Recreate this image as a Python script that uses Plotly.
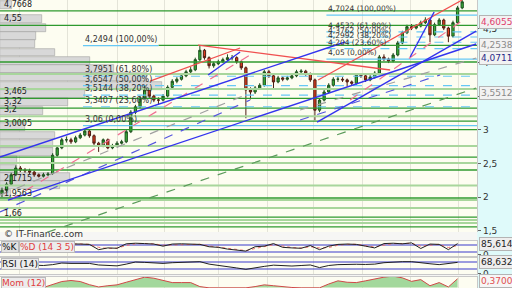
import plotly.graph_objects as go

# ---------------- data ----------------
closes = [2.10, 2.19, 2.33, 2.43, 2.40, 2.39, 2.37, 2.33, 2.31, 2.33,
          2.34, 2.62, 2.73, 2.85, 2.85, 2.82, 2.88, 2.92, 2.98, 2.91,
          2.80, 2.76, 2.85, 2.73, 2.76, 2.80, 2.82, 2.97, 3.26, 3.34,
          3.47, 3.59, 3.50, 3.44, 3.44, 3.50, 3.63, 3.72, 3.75, 3.80,
          3.86, 3.89, 4.04, 4.18, 4.07, 3.95, 3.98, 4.01, 4.04, 4.07,
          4.07, 4.01, 3.92, 3.59, 3.56, 3.62, 3.66, 3.86, 3.80, 3.71,
          3.77, 3.75, 3.77, 3.80, 3.86, 3.87, 3.83, 3.74, 3.29, 3.44,
          3.56, 3.66, 3.75, 3.75, 3.74, 3.71, 3.69, 3.81, 3.80, 3.74,
          3.78, 3.84, 4.08, 4.05, 4.02, 4.11, 4.29, 4.44, 4.53, 4.51,
          4.54, 4.59, 4.63, 4.41, 4.56, 4.63, 4.51, 4.39, 4.59, 4.81,
          4.90]
opens = [2.05, 2.10, 2.19, 2.33, 2.43, 2.40, 2.39, 2.37, 2.33, 2.31,
         2.33, 2.35, 2.62, 2.73, 2.85, 2.85, 2.82, 2.88, 2.92, 2.98,
         2.91, 2.80, 2.76, 2.85, 2.73, 2.76, 2.80, 2.82, 2.97, 3.26,
         3.34, 3.47, 3.59, 3.50, 3.44, 3.44, 3.50, 3.63, 3.72, 3.75,
         3.80, 3.86, 3.89, 4.04, 4.18, 4.07, 3.95, 3.98, 4.01, 4.04,
         4.07, 4.07, 4.01, 3.92, 3.59, 3.56, 3.62, 3.66, 3.86, 3.80,
         3.71, 3.77, 3.75, 3.77, 3.80, 3.86, 3.87, 3.83, 3.74, 3.29,
         3.44, 3.56, 3.66, 3.75, 3.75, 3.74, 3.71, 3.69, 3.81, 3.80,
         3.74, 3.78, 3.84, 4.08, 4.05, 4.02, 4.11, 4.29, 4.44, 4.53,
         4.51, 4.54, 4.59, 4.63, 4.41, 4.56, 4.63, 4.51, 4.39, 4.59,
         4.81]
highs = [2.14, 2.22, 2.36, 2.47, 2.46, 2.43, 2.42, 2.39, 2.35, 2.36,
         2.37, 2.65, 2.76, 2.88, 2.90, 2.88, 2.91, 2.95, 3.01, 3.00,
         2.93, 2.82, 2.87, 2.87, 2.79, 2.83, 2.85, 3.00, 3.29, 3.37,
         3.50, 3.66, 3.61, 3.52, 3.48, 3.53, 3.66, 3.75, 3.78, 3.83,
         3.89, 3.93, 4.07, 4.25, 4.20, 4.09, 4.01, 4.04, 4.07, 4.12,
         4.11, 4.09, 4.03, 3.94, 3.63, 3.65, 3.69, 3.89, 3.89, 3.82,
         3.80, 3.79, 3.80, 3.83, 3.89, 3.90, 3.89, 3.85, 3.76, 3.47,
         3.59, 3.69, 3.78, 3.79, 3.78, 3.76, 3.73, 3.84, 3.84, 3.82,
         3.81, 3.87, 4.11, 4.12, 4.07, 4.14, 4.32, 4.47, 4.56, 4.57,
         4.57, 4.62, 4.67, 4.65, 4.59, 4.66, 4.65, 4.53, 4.62, 4.84,
         4.93]
lows = [2.00, 2.07, 2.17, 2.31, 2.37, 2.36, 2.34, 2.30, 2.29, 2.29,
        2.31, 2.33, 2.60, 2.71, 2.81, 2.79, 2.80, 2.86, 2.90, 2.88,
        2.76, 2.67, 2.74, 2.71, 2.71, 2.74, 2.78, 2.80, 2.95, 3.23,
        3.32, 3.45, 3.46, 3.41, 3.37, 3.42, 3.48, 3.61, 3.69, 3.73,
        3.78, 3.84, 3.87, 4.02, 4.04, 3.91, 3.92, 3.96, 3.99, 4.02,
        4.03, 3.98, 3.89, 3.17, 3.45, 3.53, 3.60, 3.64, 3.77, 3.60,
        3.69, 3.72, 3.73, 3.75, 3.78, 3.83, 3.80, 3.71, 3.14, 3.26,
        3.42, 3.54, 3.64, 3.71, 3.71, 3.64, 3.66, 3.67, 3.77, 3.71,
        3.72, 3.76, 3.82, 4.02, 3.99, 4.00, 4.09, 4.27, 4.42, 4.48,
        4.49, 4.52, 4.57, 4.30, 4.39, 4.54, 4.48, 4.30, 4.37, 4.57,
        4.79]
days = list(range(len(closes)))
month_ticks = [3.9, 14.3, 25.0, 35.4, 47.0, 57.6, 67.6, 78.3, 88.7, 99.1]

# volume-by-price profile (left side)
vp_prices = [4.853, 4.640, 4.517, 4.394, 4.270, 4.147, 4.024, 3.900, 3.777, 3.654,
             3.530, 3.407, 3.284, 3.160, 3.037, 2.914, 2.790, 2.667, 2.544, 2.420,
             2.297, 2.174, 2.050]
vp_volume = [12, 42, 46, 36, 35, 55, 90, 114, 147, 162,
             85, 68, 43, 0, 25, 55, 53, 53, 17, 17,
             70, 60, 11]

# support / resistance levels
dark_levels = [4.7668, 4.55, 4.006, 3.465, 3.32, 3.128, 3.0005, 2.594, 2.401, 1.985, 1.70, 1.555]
light_levels = [3.827, 3.605, 3.2, 2.758, 2.505, 2.1715, 1.9563, 1.836, 1.66, 1.614]
late_level = 4.2538
late_level_start = 34
labeled_levels = [4.7668, 4.55, 3.465, 3.32, 3.2, 3.0005, 2.1715, 1.9563, 1.66]

# fibonacci retracements
fib_pcts = [0.0, 23.6, 38.2, 50.0, 61.8, 100.0]
fib1_levels = [3.06, 3.3407, 3.5144, 3.6547, 3.7951, 4.2494]
fib1_start = 17.6
fib2_levels = [4.05, 4.204, 4.2992, 4.3762, 4.4532, 4.7024]
fib2_start = 70.5

# trend lines (day0, price0, day1, price1)
blue_lines = [(-0.43, 2.594, 74.57, 4.303), (1.30, 1.955, 103.04, 4.273),
              (68.48, 3.114, 103.04, 4.466), (44.78, 3.813, 51.74, 4.154),
              (88.70, 4.080, 93.91, 4.749)]
red_lines = [(32.17, 3.723, 51.74, 4.214), (42.61, 4.258, 84.35, 3.887),
             (68.70, 3.738, 100.0, 4.927)]
pink_dashed = [(1.74, 1.955, 53.91, 4.110), (75.65, 3.441, 99.57, 4.600)]
gray_dashed = [(-0.43, 2.030, 53.91, 3.545), (64.78, 3.293, 103.04, 4.065)]
blue_dashed = [(-0.43, 1.777, 53.91, 3.441), (64.78, 3.144, 95.22, 3.813)]
green_dashed = [(6.09, 1.391, 103.04, 3.619)]

# right-hand value boxes
value_boxes = [(4.6055, '#e0406e'), (4.2538, '#8a8a8a'), (4.0711, '#2a2a88'), (3.5512, '#8a8a8a')]

# indicators
ind_idx = list(range(13, 101, 2))
stoch_k = [90, 92, 88, 85, 40, 55, 52, 90, 95, 92, 88, 70, 88, 90, 88, 85, 65, 60, 45, 35,
           28, 65, 70, 92, 60, 55, 52, 75, 40, 70, 85, 88, 85, 70, 55, 92, 95, 90, 98, 50,
           88, 85, 40, 92]
stoch_d = [85, 90, 89, 86, 60, 50, 53, 75, 90, 93, 90, 78, 80, 88, 88, 86, 72, 63, 52, 40,
           32, 50, 66, 82, 72, 58, 54, 65, 55, 58, 78, 86, 86, 77, 62, 78, 92, 92, 95, 70,
           75, 86, 58, 75]
rsi_idx = list(range(7, 101, 2))
rsi_vals = [52, 50, 55, 64, 62, 60, 62, 53, 50, 48, 58, 70, 68, 66, 62, 66, 68, 70, 72, 58,
            52, 42, 36, 28, 38, 45, 52, 48, 47, 50, 53, 38, 50, 55, 58, 57, 56, 58, 66, 70,
            72, 72, 64, 60, 55, 60, 68]
mom_idx = list(range(9, 101, 2))
mom_vals = [0.0, 0.15, 0.34, 0.40, 0.34, 0.16, 0.03, 0.10, 0.15, 0.30,
            0.45, 0.59, 0.53, 0.40, 0.28, 0.28, 0.28, 0.05, -0.02, -0.02,
            -0.02, -0.02, -0.02, 0.05, 0.15, 0.10, 0.03, 0.0, -0.02, 0.0,
            -0.02, 0.20, 0.38, 0.30, 0.28, 0.38, 0.50, 0.59, 0.65, 0.55,
            0.35, 0.45, 0.10, 0.28, 0.03, 0.50]

# ---------------- figure ----------------
X0, X1 = -0.43, 103.26
XD = [0, 0.932]
FONT = "DejaVu Sans"


def fmt(v):
    return ('%g' % v).replace('.', ',')


fig = go.Figure()

fig.add_trace(go.Bar(x=vp_volume, y=vp_prices, orientation='h', width=0.118,
                     xaxis='x', yaxis='y', hoverinfo='skip', showlegend=False,
                     marker=dict(color='#d8d8d8', line=dict(color='#a0a0a0', width=0.6))))


def hline(p, x0, x1, color, width, dash='solid'):
    fig.add_trace(go.Scatter(x=[x0, x1], y=[p, p], mode='lines', xaxis='x2', yaxis='y',
                             line=dict(color=color, width=width, dash=dash),
                             hoverinfo='skip', showlegend=False))


for p in light_levels:
    hline(p, X0, X1, '#a8d69c', 2)
for p in dark_levels:
    hline(p, X0, X1, '#2f9a2f', 1.3)
hline(late_level, late_level_start, X1, '#2f9a2f', 1.3)

for lv, pc in zip(fib1_levels, fib_pcts):
    solid = pc in (0.0, 100.0)
    end = late_level_start if pc == 100.0 else X1
    hline(lv, fib1_start, end, '#66c8f5', 1.3 if solid else 1.1, 'solid' if solid else 'dash')
for lv, pc in zip(fib2_levels, fib_pcts):
    solid = pc in (0.0, 100.0)
    hline(lv, fib2_start, X1, '#66c8f5', 1.3 if solid else 1.1, 'solid' if solid else 'dash')


def seg(t, color, width, dash='solid'):
    fig.add_trace(go.Scatter(x=[t[0], t[2]], y=[t[1], t[3]], mode='lines', xaxis='x2', yaxis='y',
                             line=dict(color=color, width=width, dash=dash),
                             hoverinfo='skip', showlegend=False))


for t in green_dashed:
    seg(t, '#5a9a5a', 1.2, 'dash')
for t in gray_dashed:
    seg(t, '#a0a0a0', 1.2, 'dash')
for t in blue_dashed:
    seg(t, '#5555dd', 1.2, 'dash')
for t in pink_dashed:
    seg(t, '#f07090', 1.2, 'dash')

fig.add_trace(go.Candlestick(x=days, open=opens, high=highs, low=lows, close=closes,
                             xaxis='x2', yaxis='y', whiskerwidth=0, showlegend=False,
                             increasing=dict(line=dict(color='#1e4e1e', width=1), fillcolor='#36b036'),
                             decreasing=dict(line=dict(color='#4e1e14', width=1), fillcolor='#e03c1e'),
                             hoverinfo='skip'))

for t in red_lines:
    seg(t, '#f05050', 1.3)
for t in blue_lines:
    seg(t, '#3333ee', 1.4)

# stochastic
for lv in (80, 20):
    fig.add_trace(go.Scatter(x=[X0, X1], y=[lv, lv], mode='lines', xaxis='x3', yaxis='y3',
                             line=dict(color='#3a3acc', width=1.2), hoverinfo='skip', showlegend=False))
fig.add_trace(go.Scatter(x=ind_idx, y=stoch_d, mode='lines', xaxis='x3', yaxis='y3',
                         line=dict(color='#f07070', width=1, dash='dot'), hoverinfo='skip', showlegend=False))
fig.add_trace(go.Scatter(x=ind_idx, y=stoch_k, mode='lines', xaxis='x3', yaxis='y3',
                         line=dict(color='#202020', width=1), hoverinfo='skip', showlegend=False))
# RSI
for lv in (70, 30):
    fig.add_trace(go.Scatter(x=[X0, X1], y=[lv, lv], mode='lines', xaxis='x4', yaxis='y4',
                             line=dict(color='#3a3acc', width=1.2), hoverinfo='skip', showlegend=False))
fig.add_trace(go.Scatter(x=rsi_idx, y=rsi_vals, mode='lines', xaxis='x4', yaxis='y4',
                         line=dict(color='#202020', width=1), hoverinfo='skip', showlegend=False))
# Momentum
fig.add_trace(go.Scatter(x=mom_idx, y=mom_vals, mode='lines', xaxis='x5', yaxis='y5', fill='tozeroy',
                         fillcolor='#a3d89c', line=dict(color='#d04848', width=1),
                         hoverinfo='skip', showlegend=False))

grid = dict(tickvals=month_ticks, showgrid=True, gridcolor='#e4e4d8', gridwidth=1,
            showticklabels=False, ticks='', zeroline=False)
sub_x = dict(domain=XD, range=[X0, X1], showline=True, mirror=True, linecolor='#c8c8c8', **grid)
ytick = dict(ticks='outside', ticklen=3, tickcolor='#666', tickfont=dict(size=9, color='#333', family=FONT),
             showgrid=False, zeroline=False, side='right', automargin=False)

main_ticks = [1.5, 2, 2.5, 3, 3.5, 4, 4.5]
fig.update_layout(
    width=512, height=288, margin=dict(l=0, r=0, t=0, b=0, pad=0),
    paper_bgcolor='#f6f6f4', plot_bgcolor='#fdfdf1', showlegend=False,
    font=dict(family=FONT, size=8, color='#222'),
    bargap=0,
    xaxis=dict(domain=XD, range=[0, 477], visible=False, anchor='y'),
    xaxis2=dict(domain=XD, range=[X0, X1], overlaying='x', anchor='y',
                rangeslider=dict(visible=False), **grid),
    yaxis=dict(domain=[0.1944, 1.0], range=[1.48, 4.927], anchor='x', tickvals=main_ticks,
               ticktext=[fmt(v) for v in main_ticks], showline=True, linecolor='#c8c8c8', **ytick),
    xaxis3=dict(anchor='y3', **sub_x),
    yaxis3=dict(domain=[0.1111, 0.1632], range=[-14, 114], anchor='x3', tickvals=[0], ticktext=['0'],
                showline=True, mirror=True, linecolor='#c8c8c8', **ytick),
    xaxis4=dict(anchor='y4', **sub_x),
    yaxis4=dict(domain=[0.0486, 0.1042], range=[1.4, 93], anchor='x4', tickvals=[5], ticktext=['0'],
                showline=True, mirror=True, linecolor='#c8c8c8', **ytick),
    xaxis5=dict(anchor='y5', **sub_x),
    yaxis5=dict(domain=[0.0, 0.0382], range=[-0.03, 0.6], anchor='x5', tickvals=[], showline=True,
                mirror=True, linecolor='#c8c8c8', **ytick),
)

fig.add_shape(type='rect', xref='paper', yref='paper', x0=0.932, x1=1.0, y0=0, y1=1,
              fillcolor='#dffafa', line=dict(width=0), layer='below')

ann = []
for p in labeled_levels:
    ann.append(dict(x=0.004, xref='paper', xanchor='left', y=p, yref='y', yanchor='bottom',
                    text=fmt(p), showarrow=False, font=dict(size=8, color='#222')))
for lv, pc in zip(fib1_levels, fib_pcts):
    ann.append(dict(x=fib1_start, xref='x2', xanchor='left', y=lv, yref='y', yanchor='bottom',
                    text='%s (%s%%)' % (fmt(lv), ('%.2f' % pc).replace('.', ',')), showarrow=False,
                    font=dict(size=8, color='#333')))
for lv, pc in zip(fib2_levels, fib_pcts):
    ann.append(dict(x=fib2_start, xref='x2', xanchor='left', y=lv, yref='y', yanchor='bottom',
                    text='%s (%s%%)' % (fmt(lv), ('%.2f' % pc).replace('.', ',')), showarrow=False,
                    font=dict(size=7.5, color='#333')))
for v, c in value_boxes:
    ann.append(dict(x=0.935, xref='paper', xanchor='left', y=v, yref='y', yanchor='middle',
                    text=fmt(v), showarrow=False, font=dict(size=9, color=c),
                    bgcolor='#f2f2f2', bordercolor='#b4b4b4', borderwidth=1, borderpad=1))
ann.append(dict(x=0.935, xref='paper', xanchor='left', y=stoch_k[-1] - 6, yref='y3', yanchor='middle',
                text='85,614', showarrow=False, font=dict(size=9, color='#222'),
                bgcolor='#eeeeee', bordercolor='#b4b4b4', borderwidth=1, borderpad=1))
ann.append(dict(x=0.935, xref='paper', xanchor='left', y=rsi_vals[-1], yref='y4', yanchor='middle',
                text='68,632', showarrow=False, font=dict(size=9, color='#222'),
                bgcolor='#eeeeee', bordercolor='#b4b4b4', borderwidth=1, borderpad=1))
ann.append(dict(x=0.935, xref='paper', xanchor='left', y=0.37, yref='y5', yanchor='middle',
                text='0,3700', showarrow=False, font=dict(size=9, color='#e05050'),
                bgcolor='#f6f6f6', bordercolor='#b4b4b4', borderwidth=1, borderpad=1))
ann.append(dict(x=0.004, xref='paper', xanchor='left', y=1 - 234 / 288, yref='paper', yanchor='middle',
                text='© IT-Finance.com', showarrow=False, font=dict(size=9, color='#333')))
ann.append(dict(x=0.002, xref='paper', xanchor='left', y=0.1632, yref='paper', yanchor='top',
                text='%K', showarrow=False, font=dict(size=9, color='#111'),
                bgcolor='#e2e2e2', bordercolor='#bbbbbb', borderwidth=1, borderpad=0))
ann.append(dict(x=0.037, xref='paper', xanchor='left', y=0.1632, yref='paper', yanchor='top',
                text='%D (14 3 5)', showarrow=False, font=dict(size=9, color='#e04040'),
                bgcolor='#ececec', bordercolor='#bbbbbb', borderwidth=1, borderpad=0))
ann.append(dict(x=0.002, xref='paper', xanchor='left', y=0.1042, yref='paper', yanchor='top',
                text='RSI (14)', showarrow=False, font=dict(size=9, color='#111'),
                bgcolor='#ececec', bordercolor='#bbbbbb', borderwidth=1, borderpad=0))
ann.append(dict(x=0.002, xref='paper', xanchor='left', y=0.0382, yref='paper', yanchor='top',
                text='Mom (12)', showarrow=False, font=dict(size=9, color='#e04040'),
                bgcolor='#ececec', bordercolor='#bbbbbb', borderwidth=1, borderpad=0))
fig.update_layout(annotations=ann)

fig.write_html("out.html")
